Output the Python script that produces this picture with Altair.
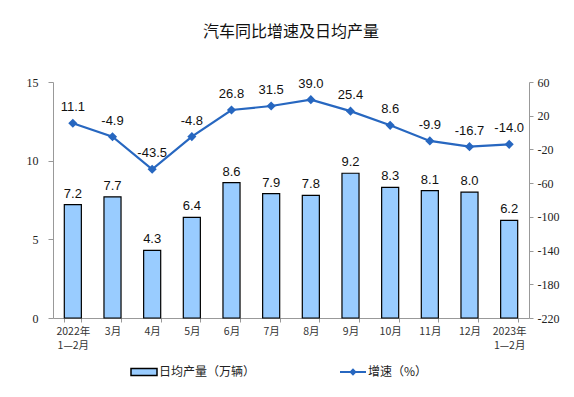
import altair as alt
import pandas as pd

categories = ["2022年|1—2月", "3月", "4月", "5月", "6月", "7月", "8月", "9月", "10月", "11月", "12月", "2023年|1—2月"]
production = [7.2, 7.7, 4.3, 6.4, 8.6, 7.9, 7.8, 9.2, 8.3, 8.1, 8.0, 6.2]
growth = [11.1, -4.9, -43.5, -4.8, 26.8, 31.5, 39.0, 25.4, 8.6, -9.9, -16.7, -14.0]

bar_name = "日均产量（万辆）"
line_name = "增速（%）"

df = pd.DataFrame({
    "cat": categories,
    "prod": production,
    "growth": growth,
    "prod_txt": [f"{v:.1f}" for v in production],
    "growth_txt": [f"{v:.1f}" for v in growth],
    "bar_s": bar_name,
    "line_s": line_name,
})

BAR_FILL = "#99CCFF"
LINE_COL = "#2767C0"
NUM_FONT = "Liberation Sans"
AX_FONT = "Liberation Serif"

x_axis = alt.Axis(labelExpr="split(datum.label, '|')", labelAngle=0,
                  labelFont="Noto Sans CJK SC", labelFontSize=10.5,
                  labelColor="#333333", labelLineHeight=14.5,
                  tickBand="extent", tickSize=4, tickColor="#999",
                  domainColor="#999", labelPadding=4, labelOverlap=False)
x = alt.X("cat:N", sort=categories, title=None,
          scale=alt.Scale(paddingInner=0.57, paddingOuter=0.285), axis=x_axis)

left_axis = alt.Axis(values=[0, 5, 10, 15], grid=False, labelFont=AX_FONT,
                     labelFontSize=12, labelColor="#222222", tickSize=5,
                     tickColor="#999", domainColor="#999", labelPadding=10)
right_axis = alt.Axis(orient="right", values=list(range(-220, 61, 40)), grid=False,
                      labelExpr="replace(datum.label, '−', '-')",
                      labelFont=AX_FONT, labelFontSize=12, labelColor="#222222",
                      tickSize=4, tickColor="#999", domainColor="#999", labelPadding=4)

yl = alt.Y("prod:Q", scale=alt.Scale(domain=[0, 15]), title=None, axis=left_axis)
yr = alt.Y("growth:Q", scale=alt.Scale(domain=[-220, 60]), title=None, axis=right_axis)

base = alt.Chart(df)

bars = base.mark_bar(stroke="black", strokeWidth=1.2).encode(
    x=x,
    y=yl,
    fill=alt.Fill("bar_s:N", scale=alt.Scale(range=[BAR_FILL]),
                  legend=alt.Legend(title=None, orient="none", legendX=85, legendY=284,
                                    symbolType="M-2.6,-0.7H2.6V0.7H-2.6Z", symbolSize=100,
                                    symbolStrokeColor="black", symbolStrokeWidth=1.5,
                                    labelOffset=9, labelFont="Noto Sans CJK SC",
                                    labelFontSize=12, labelColor="#222")),
)

bar_labels = base.mark_text(dy=-11, font=NUM_FONT, fontSize=13, color="#111").encode(
    x=x,
    y=yl,
    text="prod_txt:N",
)

left = alt.layer(bars, bar_labels)

line = base.mark_line(strokeWidth=2.2, point=alt.OverlayMarkDef(shape="diamond", filled=True, size=40, color=LINE_COL)).encode(
    x=x,
    y=yr,
    stroke=alt.Stroke("line_s:N", scale=alt.Scale(range=[LINE_COL]),
                      legend=alt.Legend(title=None, orient="none", legendX=294, legendY=284,
                                        symbolType="M-2.6,0H2.6M-0.45,0L0,-0.45L0.45,0L0,0.45Z",
                                        symbolSize=100, symbolStrokeWidth=2,
                                        symbolFillColor=LINE_COL,
                                        labelOffset=9, labelFont="Noto Sans CJK SC",
                                        labelFontSize=12, labelColor="#222")),
)

line_labels = base.mark_text(dy=-16, font=NUM_FONT, fontSize=13, color="#111").encode(
    x=x,
    y=yr,
    text="growth_txt:N",
)

right = alt.layer(line, line_labels)

chart = alt.layer(left, right).resolve_scale(y="independent", fill="independent", stroke="independent").properties(
    width=476, height=236,
    autosize=alt.AutoSizeParams(type="none"),
    padding={"left": 45, "top": 74, "right": 37, "bottom": 70},
    title=alt.Title("汽车同比增速及日均产量", font="Noto Sans CJK SC", fontSize=16,
                    fontWeight="normal", color="#111", offset=36, anchor="middle"),
).configure_view(stroke=None)

chart.save("out.html", embed_options={"renderer": "svg", "actions": False})
